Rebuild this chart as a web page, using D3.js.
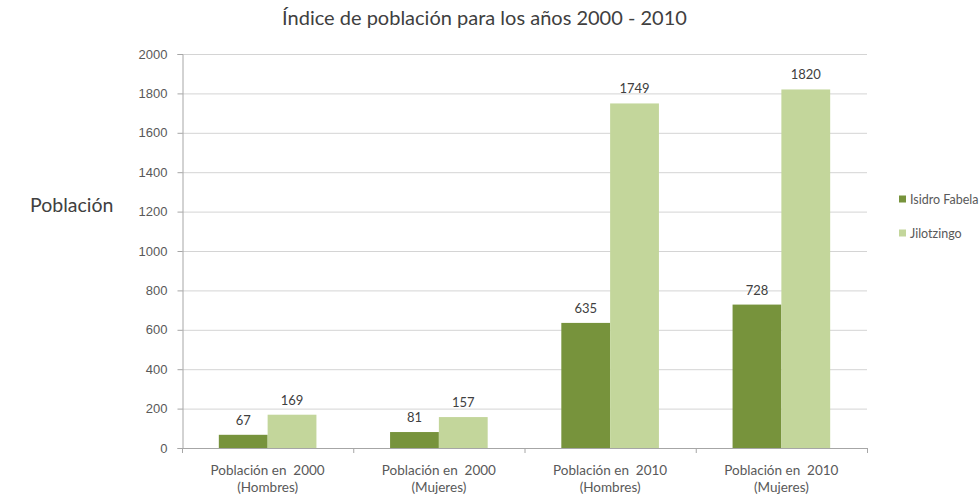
<!DOCTYPE html>
<html>
<head>
<meta charset="utf-8">
<script src="https://cdn.jsdelivr.net/npm/d3@7"></script>
<style>
  html, body { margin: 0; padding: 0; background: #fff; }
  svg { display: block; font-family: Lato, "Open Sans", sans-serif; }
</style>
</head>
<body>
<svg id="chart" width="980" height="494"></svg>
<script>
// Population by municipality, census 2000 and 2010
const categories = [
  ["Población en  2000", "(Hombres)"],
  ["Población en  2000", "(Mujeres)"],
  ["Población en  2010", "(Hombres)"],
  ["Población en  2010", "(Mujeres)"]
];
const seriesNames = ["Isidro Fabela", "Jilotzingo"];
const isidroFabela = [67, 81, 635, 728];
const jilotzingo = [169, 157, 1749, 1820];
const yTicks = [0, 200, 400, 600, 800, 1000, 1200, 1400, 1600, 1800, 2000];
const colors = ["#77933c", "#c3d69b"];

const svg = d3.select("#chart");
const plotLeft = 182, plotRight = 867, plotTop = 54, plotBottom = 448;

const x0 = d3.scaleBand()
  .domain(d3.range(categories.length))
  .range([plotLeft, plotRight])
  .paddingInner(0.43)
  .paddingOuter(0.215);
const x1 = d3.scaleBand()
  .domain(d3.range(seriesNames.length))
  .range([0, x0.bandwidth()]);
const y = d3.scaleLinear().domain([0, 2000]).range([plotBottom, plotTop]);
const step = (plotRight - plotLeft) / categories.length;

// Gridlines
svg.append("g")
  .selectAll("line")
  .data(yTicks.filter(d => d > 0))
  .join("line")
  .attr("x1", plotLeft).attr("x2", plotRight)
  .attr("y1", d => y(d) + 0.5).attr("y2", d => y(d) + 0.5)
  .attr("stroke", "#d4d4d4").attr("stroke-width", 1);

// Y axis
const yAxis = svg.append("g")
  .attr("transform", `translate(${plotLeft + 0.5},0)`)
  .call(d3.axisLeft(y).tickValues(yTicks).tickSize(5).tickPadding(10).tickFormat(d3.format("d")));
yAxis.select(".domain").attr("stroke", "#a6a6a6");
yAxis.selectAll(".tick line").attr("stroke", "#a6a6a6");
yAxis.selectAll(".tick text").attr("fill", "#595959").attr("font-size", 13).attr("font-family", "inherit");

// X axis with ticks between categories
svg.append("line")
  .attr("x1", plotLeft).attr("x2", plotRight)
  .attr("y1", plotBottom + 0.5).attr("y2", plotBottom + 0.5)
  .attr("stroke", "#a6a6a6");
svg.append("g")
  .selectAll("line")
  .data(d3.range(categories.length + 1))
  .join("line")
  .attr("x1", i => plotLeft + 0.5 + i * step).attr("x2", i => plotLeft + 0.5 + i * step)
  .attr("y1", plotBottom).attr("y2", plotBottom + 5)
  .attr("stroke", "#a6a6a6");

// Category labels
const catG = svg.append("g");
categories.forEach((lines, i) => {
  const cx = x0(i) + x0.bandwidth() / 2;
  lines.forEach((t, j) => {
    catG.append("text")
      .attr("x", cx).attr("y", 475 + j * 17)
      .attr("text-anchor", "middle")
      .attr("font-size", 13.5)
      .attr("fill", "#595959")
      .style("white-space", "pre")
      .text(t);
  });
});

// Bars and value labels
const seriesData = [isidroFabela, jilotzingo];
seriesData.forEach((vals, s) => {
  const g = svg.append("g");
  g.selectAll("rect")
    .data(vals)
    .join("rect")
    .attr("x", (d, i) => x0(i) + x1(s))
    .attr("width", x1.bandwidth())
    .attr("y", d => y(d))
    .attr("height", d => y(0) - y(d))
    .attr("fill", colors[s]);
  g.selectAll("text")
    .data(vals)
    .join("text")
    .attr("x", (d, i) => x0(i) + x1(s) + x1.bandwidth() / 2)
    .attr("y", d => y(d) - 10)
    .attr("text-anchor", "middle")
    .attr("font-size", 13)
    .attr("fill", "#404040")
    .text(d => d);
});

// Title
svg.append("text")
  .attr("x", 484.5).attr("y", 25)
  .attr("text-anchor", "middle")
  .attr("font-size", 20)
  .attr("fill", "#404040")
  .text("Índice de población para los años 2000 - 2010");

// Y axis title
svg.append("text")
  .attr("x", 30).attr("y", 212)
  .attr("font-size", 19.5)
  .attr("fill", "#404040")
  .text("Población");

// Legend
const legend = svg.append("g");
seriesNames.forEach((name, i) => {
  const ly = 199 + i * 34;
  legend.append("rect")
    .attr("x", 899).attr("y", ly - 3.5)
    .attr("width", 7).attr("height", 7)
    .attr("fill", colors[i]);
  legend.append("text")
    .attr("x", 910).attr("y", ly + 4.5)
    .attr("font-size", 12.5)
    .attr("fill", "#595959")
    .text(name);
});
</script>
</body>
</html>
